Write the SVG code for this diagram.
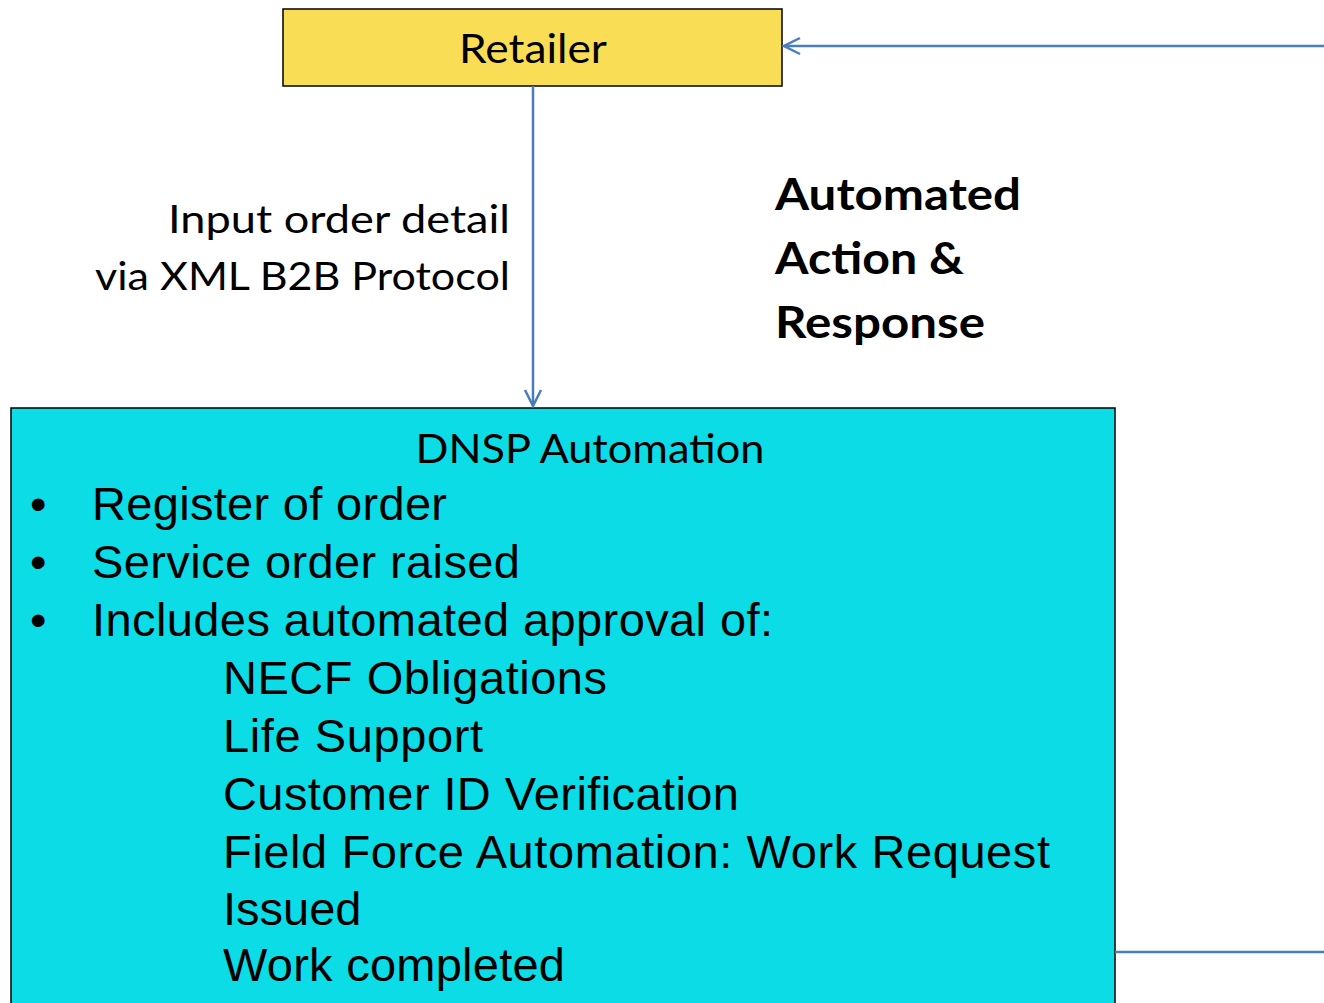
<svg xmlns="http://www.w3.org/2000/svg" width="1324" height="1003" viewBox="0 0 1324 1003">
  <style>
    .box { stroke: #000; stroke-width: 1.5; }
    .cal { font-family: Lato, "Open Sans", sans-serif; fill: #000; }
    .ari { font-family: "Liberation Sans", Arial, sans-serif; fill: #000; font-size: 47px; }
    .conn { fill: none; stroke: #4A7EBB; stroke-width: 2.5; }
  </style>
  <defs>
    <marker id="open" viewBox="0 0 20 20" refX="18" refY="10" markerWidth="20" markerHeight="20" markerUnits="userSpaceOnUse" orient="auto">
      <path d="M2,2 L18,10 L2,18" fill="none" stroke="#4A7EBB" stroke-width="2.5"/>
    </marker>
  </defs>

  <rect width="1324" height="1003" fill="#fff"/>

  <g id="retailer">
    <rect class="box" x="283" y="9" width="499" height="77" fill="#F8DD55"/>
    <text class="cal" x="533" y="63" font-size="41" text-anchor="middle" textLength="148" lengthAdjust="spacingAndGlyphs">Retailer</text>
  </g>

  <g id="dnsp">
    <rect class="box" x="11" y="408" width="1104" height="600" fill="#0BDCE6"/>
    <text class="cal" x="590" y="463" font-size="41" text-anchor="middle" textLength="349" lengthAdjust="spacingAndGlyphs">DNSP Automation</text>
    <g class="ari">
      <text x="30" y="520">•</text><text x="92" y="520" textLength="355" lengthAdjust="spacing">Register of order</text>
      <text x="30" y="578">•</text><text x="92" y="578" textLength="428" lengthAdjust="spacing">Service order raised</text>
      <text x="30" y="636">•</text><text x="92" y="636" textLength="681" lengthAdjust="spacing">Includes automated approval of:</text>
      <text x="223" y="694" textLength="384" lengthAdjust="spacing">NECF Obligations</text>
      <text x="223" y="752" textLength="260" lengthAdjust="spacing">Life Support</text>
      <text x="223" y="810" textLength="516" lengthAdjust="spacing">Customer ID Verification</text>
      <text x="223" y="868" textLength="827" lengthAdjust="spacing">Field Force Automation: Work Request</text>
      <text x="223" y="925">Issued</text>
      <text x="223" y="981" textLength="342" lengthAdjust="spacing">Work completed</text>
    </g>
  </g>

  <g id="labels">
    <text class="cal" x="510" y="233" font-size="39" text-anchor="end" textLength="342" lengthAdjust="spacingAndGlyphs">Input order detail</text>
    <text class="cal" x="510" y="290" font-size="39" text-anchor="end" textLength="415" lengthAdjust="spacingAndGlyphs">via XML B2B Protocol</text>
    <text class="cal" x="775" y="210" font-size="44" font-weight="bold" textLength="246" lengthAdjust="spacingAndGlyphs">Automated</text>
    <text class="cal" x="775" y="274" font-size="44" font-weight="bold" textLength="189" lengthAdjust="spacingAndGlyphs">Action &amp;</text>
    <text class="cal" x="775" y="338" font-size="44" font-weight="bold" textLength="210" lengthAdjust="spacingAndGlyphs">Response</text>
  </g>

  <g id="connectors">
    <path class="conn" d="M533,86 L533,406" marker-end="url(#open)"/>
    <path class="conn" d="M1324,46 L784,46" marker-end="url(#open)"/>
    <path class="conn" d="M1115,952 L1324,952" stroke-width="2"/>
  </g>
</svg>
